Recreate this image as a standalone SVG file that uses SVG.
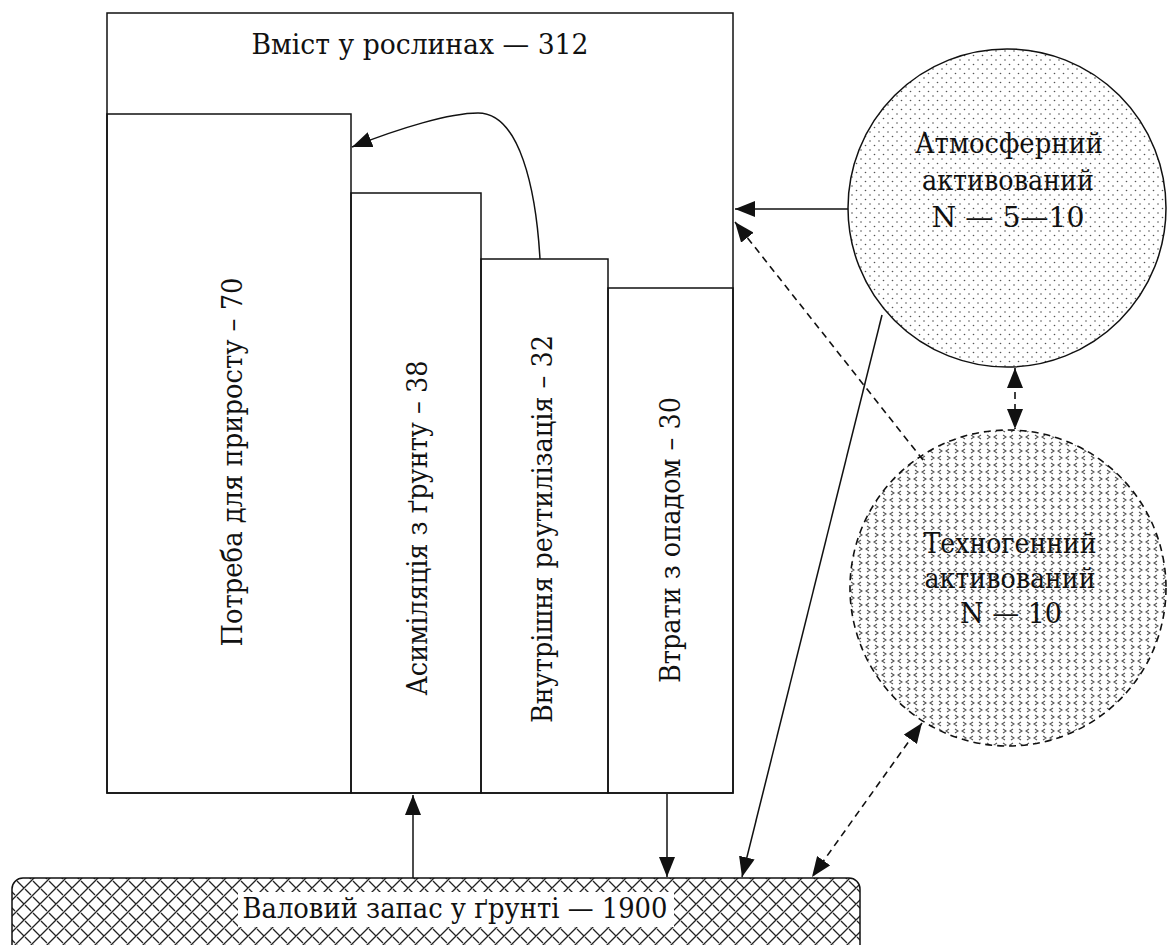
<svg xmlns="http://www.w3.org/2000/svg" width="1167" height="945" viewBox="0 0 1167 945">
<style>
.t{font-family:'DejaVu Serif','Liberation Serif',serif;font-size:27px;fill:#111;text-anchor:middle}
.box{fill:none;stroke:#111;stroke-width:1.5}
.ln{fill:none;stroke:#111;stroke-width:1.5}
.dash{fill:none;stroke:#111;stroke-width:1.6;stroke-dasharray:7 5}
</style>
<defs>
<marker id="ah" viewBox="0 0 20 16" refX="20" refY="8" markerWidth="20" markerHeight="16" orient="auto-start-reverse" markerUnits="userSpaceOnUse">
<path d="M0,0 L20,8 L0,16 z" fill="#111"/>
</marker>
<pattern id="dots" width="9" height="9" patternUnits="userSpaceOnUse">
<rect width="9" height="9" fill="#fff"/>
<circle cx="1.5" cy="1.5" r="0.8" fill="#555"/>
<circle cx="6" cy="6" r="0.8" fill="#555"/>
</pattern>
<pattern id="chev" width="16" height="14" patternUnits="userSpaceOnUse">
<rect width="16" height="14" fill="#fff"/>
<path d="M5,1 L2,3 L5,5 M11,1 L14,3 L11,5 M13,8 L10,10 L13,12 M3,8 L6,10 L3,12" fill="none" stroke="#555" stroke-width="1.1"/>
</pattern>
<pattern id="hatch" width="16" height="16" patternUnits="userSpaceOnUse">
<rect width="16" height="16" fill="#fff"/>
<path d="M0,16 L16,0 M-4,4 L4,-4 M12,20 L20,12 M1,1 L8,8 M9,9 L15,15" fill="none" stroke="#222" stroke-width="1.3"/>
</pattern>
</defs>

<g id="plants">
<rect class="box" x="107" y="13" width="626" height="780" fill="#fff"/>
<text class="t" x="420" y="54" textLength="337" lengthAdjust="spacingAndGlyphs">Вміст у рослинах — 312</text>
</g>
<g id="growth">
<rect class="box" x="107" y="114" width="244" height="679"/>
<text class="t" transform="translate(242,462) rotate(-90)" textLength="369" lengthAdjust="spacingAndGlyphs">Потреба для приросту – 70</text>
</g>
<g id="assim">
<rect class="box" x="351" y="193" width="130" height="600"/>
<text class="t" transform="translate(427,528) rotate(-90)" textLength="335" lengthAdjust="spacingAndGlyphs">Асиміляція з ґрунту – 38</text>
</g>
<g id="reutil">
<rect class="box" x="481" y="259" width="127" height="534"/>
<text class="t" transform="translate(552,529) rotate(-90)" textLength="388" lengthAdjust="spacingAndGlyphs">Внутрішня реутилізація – 32</text>
</g>
<g id="litter">
<rect class="box" x="608" y="288" width="125" height="505"/>
<text class="t" transform="translate(680,540) rotate(-90)" textLength="286" lengthAdjust="spacingAndGlyphs">Втрати з опадом – 30</text>
</g>

<g id="atm">
<circle cx="1007" cy="208" r="159" fill="url(#dots)" stroke="#111" stroke-width="1.5"/>
<text class="t" x="1009" y="153" textLength="188" lengthAdjust="spacingAndGlyphs">Атмосферний</text>
<text class="t" x="1008" y="190" textLength="172" lengthAdjust="spacingAndGlyphs">активований</text>
<text class="t" x="1008" y="227" textLength="153" lengthAdjust="spacingAndGlyphs">N — 5—10</text>
</g>

<g id="techno">
<circle cx="1008" cy="588" r="158" fill="url(#chev)" stroke="#111" stroke-width="1.6" stroke-dasharray="7 5"/>
<text class="t" x="1010" y="553" textLength="173" lengthAdjust="spacingAndGlyphs">Техногенний</text>
<text class="t" x="1010" y="588" textLength="171" lengthAdjust="spacingAndGlyphs">активований</text>
<text class="t" x="1011" y="623" textLength="102" lengthAdjust="spacingAndGlyphs">N — 10</text>
</g>

<g id="soil">
<rect x="12" y="878" width="848" height="80" rx="11" ry="11" fill="url(#hatch)" stroke="#111" stroke-width="1.5"/>
<rect x="238" y="892" width="436" height="35" fill="#fff"/>
<text class="t" x="455" y="918" textLength="425" lengthAdjust="spacingAndGlyphs">Валовий запас у ґрунті  — 1900</text>
</g>

<g id="connectors">
<path class="ln" d="M540,259 C536,190 520,113 478,113 C450,113 400,128 352,147" marker-end="url(#ah)"/>
<line class="ln" x1="848" y1="209" x2="735" y2="209" marker-end="url(#ah)"/>
<line class="dash" x1="923" y1="460" x2="735" y2="222" marker-end="url(#ah)"/>
<line class="dash" x1="1015" y1="368" x2="1015" y2="429" marker-start="url(#ah)" marker-end="url(#ah)"/>
<line class="ln" x1="882" y1="315" x2="742" y2="877" marker-end="url(#ah)"/>
<line class="dash" x1="922" y1="723" x2="812" y2="877" marker-start="url(#ah)" marker-end="url(#ah)"/>
<line class="ln" x1="413" y1="878" x2="413" y2="795" marker-end="url(#ah)"/>
<line class="ln" x1="667" y1="794" x2="667" y2="877" marker-end="url(#ah)"/>
</g>
</svg>
